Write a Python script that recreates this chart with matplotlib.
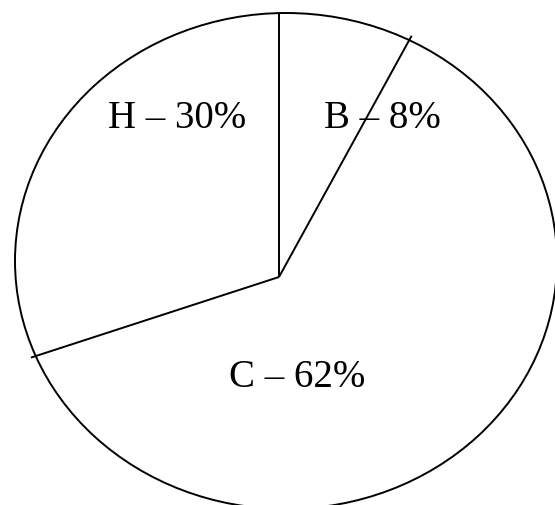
import numpy as np
import matplotlib
matplotlib.use("Agg")
import matplotlib.pyplot as plt
from matplotlib.patches import Ellipse

# Slice data (clockwise from 12 o'clock)
labels = ['B', 'C', 'H']
shares = [8, 62, 30]
label_xy = [(382, 128), (297, 387), (177, 128)]  # baseline positions in pixel space

# Outline and pie centre (pixel space, y down)
ell_center = (286, 262)
ell_w, ell_h = 542, 496
pie_center = (279, 278)

fig = plt.figure(figsize=(5.55, 5.06), dpi=100)
ax = fig.add_axes([0, 0, 1, 1])
ax.set_xlim(0, 555)
ax.set_ylim(506, 0)
ax.axis('off')

ax.add_patch(Ellipse(ell_center, ell_w, ell_h, fill=False,
                     edgecolor='black', linewidth=1.4))


def ray_to_outline(angle_deg):
    # distance from pie centre to the ellipse along the given angle
    a = np.radians(angle_deg)
    dx, dy = np.cos(a), -np.sin(a)
    px = pie_center[0] - ell_center[0]
    py = pie_center[1] - ell_center[1]
    rx, ry = ell_w / 2, ell_h / 2
    A = (dx / rx) ** 2 + (dy / ry) ** 2
    B = 2 * (px * dx / rx ** 2 + py * dy / ry ** 2)
    C = (px / rx) ** 2 + (py / ry) ** 2 - 1
    t = (-B + np.sqrt(B * B - 4 * A * C)) / (2 * A)
    return dx, dy, t


# Boundary angles
bounds = 90 - np.cumsum([0] + shares[:-1]) * 3.6
for i, ang in enumerate(bounds):
    dx, dy, t = ray_to_outline(ang)
    extra = 0 if i == 0 else 5
    ax.plot([pie_center[0], pie_center[0] + dx * (t + extra)],
            [pie_center[1], pie_center[1] + dy * (t + extra)],
            color='black', linewidth=1.4, solid_capstyle='butt')

for lab, s, (x, y) in zip(labels, shares, label_xy):
    ax.text(x, y, f"{lab} \u2013 {s}%", ha='center', va='baseline',
            fontsize=28, family='Liberation Serif', color='black')

fig.savefig("out.png", dpi=100, facecolor='white')
